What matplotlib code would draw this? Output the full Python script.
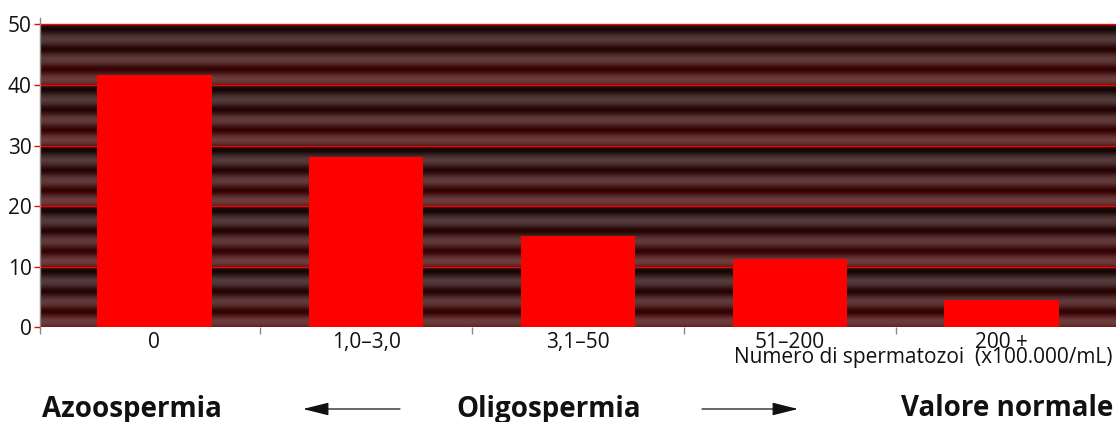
import numpy as np
import matplotlib
matplotlib.use("Agg")
import matplotlib.pyplot as plt

categories = ["0", "1,0–3,0", "3,1–50", "51–200", "200 +"]
values = [41.6, 28.1, 15.0, 11.2, 4.5]
yticks = [0, 10, 20, 30, 40, 50]
group_labels = ["Azoospermia", "Oligospermia", "Valore normale"]
axis_note = "Numero di spermatozoi  (x100.000/mL)"

plt.rcParams['font.family'] = ['Open Sans', 'DejaVu Sans']

W, H = 1116, 422
fig = plt.figure(figsize=(W / 100, H / 100), dpi=100)
ax = fig.add_axes([40 / W, 1 - 327.3 / H, 1 - 40 / W, (327.3 - 18.3) / H])

xmin, xmax = -0.54, 4.54
ax.set_xlim(xmin, xmax)
ax.set_ylim(0, 51)

# striped background
ys = np.linspace(50, 0, 1200)
d = np.ceil(ys / 10 - 1e-9) * 10 - ys
p = d / 10.0
b = 0.5 - 0.5 * np.cos(2 * np.pi * (d - 0.8) / (10 / 3))
b = b ** 0.8
light_top = np.array([0x4c, 0x3a, 0x3a]) / 255
light_bot = np.array([0x70, 0x3c, 0x3c]) / 255
dark_top = np.array([0x12, 0x05, 0x05]) / 255
dark_bot = np.array([0x3f, 0x00, 0x00]) / 255
light = light_top[None, :] * (1 - p[:, None]) + light_bot[None, :] * p[:, None]
dark = dark_top[None, :] * (1 - p[:, None]) + dark_bot[None, :] * p[:, None]
col = dark * (1 - b[:, None]) + light * b[:, None]
img = col[:, None, :]
ax.imshow(img, extent=[xmin, xmax, 0, 50], aspect='auto', zorder=0, interpolation='bilinear')

for yv in yticks:
    ax.axhline(yv, color='#ff0000', lw=1.0, zorder=1)

x = np.arange(len(categories))
ax.bar(x, values, width=0.54, color='#ff0000', zorder=2)

for s in ['top', 'right', 'bottom']:
    ax.spines[s].set_visible(False)
ax.spines['left'].set_color('#888888')
ax.spines['left'].set_linewidth(1.0)

ax.set_yticks(yticks)
ax.set_yticklabels([str(v) for v in yticks], fontsize=15, color='#111111')
ax.tick_params(axis='y', length=4, width=1, color='#ff0000', pad=2)

ax.set_xticks(x)
ax.set_xticklabels(categories, fontsize=15, color='#111111')
ax.tick_params(axis='x', which='major', length=0, pad=3.5)
ax.set_xticks([xmin, 0.5, 1.5, 2.5, 3.5], minor=True)
ax.tick_params(axis='x', which='minor', length=5, width=1, color='#888888')

def fx(px):
    return px / W

def fy(py):
    return 1 - py / H

fig.text(fx(1113), fy(363.5), axis_note, fontsize=15, ha='right', va='baseline', color='#111111')

fig.text(fx(42), fy(416.5), group_labels[0], fontsize=20, fontweight='bold', ha='left', va='baseline', color='#111111')
fig.text(fx(549), fy(416.5), group_labels[1], fontsize=20, fontweight='bold', ha='center', va='baseline', color='#111111')
fig.text(fx(1113), fy(416.5), group_labels[2], fontsize=20, fontweight='bold', ha='right', va='baseline', color='#111111')

arrow_kw = dict(arrowstyle="-|>,head_length=1.6,head_width=0.4", mutation_scale=10,
                color='#111111', lw=0.9, shrinkA=0, shrinkB=0)
ax.annotate("", xy=(fx(303), fy(409)), xytext=(fx(400), fy(409)),
            xycoords='figure fraction', textcoords='figure fraction', arrowprops=arrow_kw,
            annotation_clip=False)
ax.annotate("", xy=(fx(798), fy(409)), xytext=(fx(702), fy(409)),
            xycoords='figure fraction', textcoords='figure fraction', arrowprops=arrow_kw,
            annotation_clip=False)

fig.savefig("out.png", dpi=100, facecolor='white')
